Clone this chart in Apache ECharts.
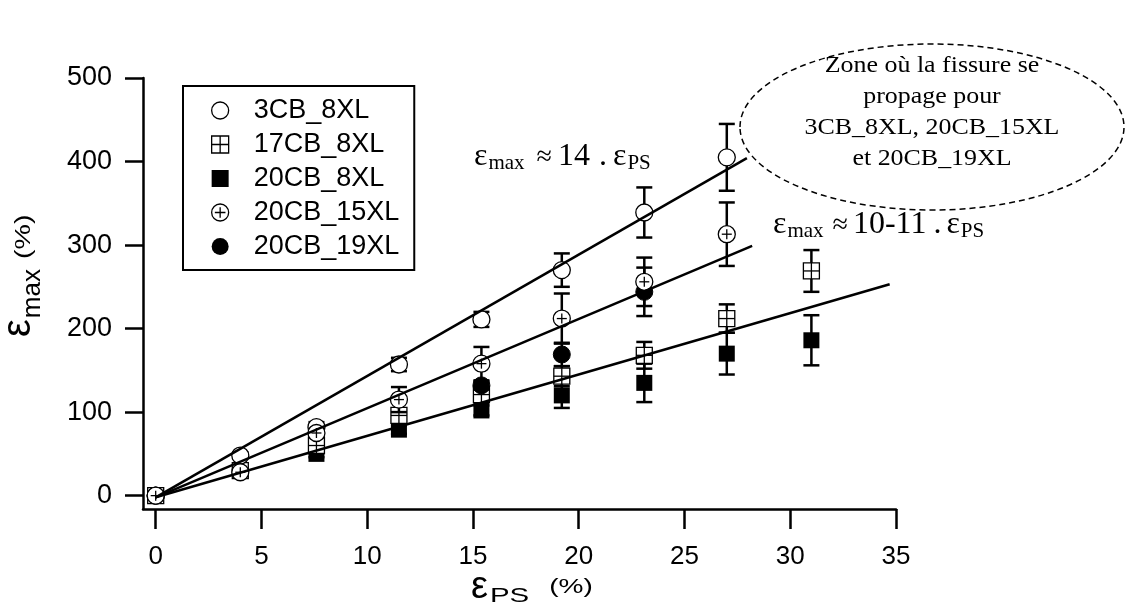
<!DOCTYPE html>
<html><head><meta charset="utf-8">
<script src="https://cdn.jsdelivr.net/npm/echarts@6/dist/echarts.min.js"></script>
<style>html,body{margin:0;padding:0;background:#fff}#c{width:1130px;height:616px}</style>
</head><body><div id="c"></div>
<script>
// ---------- data ----------
const xTicks = [0, 5, 10, 15, 20, 25, 30, 35];
const yTicks = [0, 100, 200, 300, 400, 500];
const legendNames = ['3CB_8XL', '17CB_8XL', '20CB_8XL', '20CB_15XL', '20CB_19XL'];
// each point: [eps_PS, eps_max, error]
const cb3_8xl   = [[0,0,3],[4,48,4],[7.6,82,6],[11.5,157,8],[15.4,211,9],[19.2,270,20],[23.1,339,30],[27,405,40]];
const cb17_8xl  = [[0,0,2],[4,30,3],[7.6,60,5],[11.5,96,6],[15.4,121,8],[19.2,143,12],[23.1,168,16],[27,212,17],[31,269,25]];
const cb20_8xl  = [[0,0,2],[7.6,50,4],[11.5,79,5],[15.4,102,6],[19.2,120,15],[23.1,135,23],[27,170,25],[31,186,30]];
const cb20_15xl = [[0,0,2],[4,28,3],[7.6,75,5],[11.5,115,15],[15.4,158,20],[19.2,212,30],[23.1,256,29],[27,313,38]];
const cb20_19xl = [[0,0,2],[15.4,132,5],[19.2,169,14],[23.1,244,29]];
const fitHigh = [[0,-2],[27.95,404]];
const fitMid  = [[0,-2],[28.2,299]];
const fitLow  = [[0,-2],[34.7,253]];

// ---------- styling ----------
const SANS = "'Liberation Sans', Arial, sans-serif";
const SERIF = "'Liberation Serif', 'Times New Roman', serif";
const K = '#000';

function marker(kind, cx, cy) {
  const R = 8.5, H = 8, lw = 1.3;
  if (kind === 'circle') return [{type:'circle', shape:{cx, cy, r:R}, style:{fill:'#fff', stroke:K, lineWidth:lw}}];
  if (kind === 'circleFill') return [{type:'circle', shape:{cx, cy, r:R}, style:{fill:K, stroke:K, lineWidth:1}}];
  if (kind === 'squareFill') return [{type:'rect', shape:{x:cx-H, y:cy-H, width:2*H, height:2*H}, style:{fill:K}}];
  if (kind === 'squarePlus') return [
    {type:'rect', shape:{x:cx-H, y:cy-H, width:2*H, height:2*H}, style:{fill:'#fff', stroke:K, lineWidth:lw}},
    {type:'line', shape:{x1:cx, y1:cy-H, x2:cx, y2:cy+H}, style:{stroke:K, lineWidth:lw}},
    {type:'line', shape:{x1:cx-H, y1:cy, x2:cx+H, y2:cy}, style:{stroke:K, lineWidth:lw}}];
  if (kind === 'circlePlus') return [
    {type:'circle', shape:{cx, cy, r:R}, style:{fill:'#fff', stroke:K, lineWidth:lw}},
    {type:'line', shape:{x1:cx, y1:cy-5, x2:cx, y2:cy+5}, style:{stroke:K, lineWidth:lw}},
    {type:'line', shape:{x1:cx-5, y1:cy, x2:cx+5, y2:cy}, style:{stroke:K, lineWidth:lw}}];
  return [];
}

function errSeries(name, data, kind) {
  return {
    type:'custom', name, data, clip:false, z:3,
    encode:{x:0, y:1},
    itemStyle:{color:K},
    renderItem(params, api) {
      const x = api.value(0), y = api.value(1), e = api.value(2);
      const c = api.coord([x, y]);
      const t = api.coord([x, y + e]);
      const b = api.coord([x, y - e]);
      const ch = [];
      if (e > 0) {
        const st = {stroke:K, lineWidth:2.5};
        ch.push({type:'line', shape:{x1:c[0], y1:t[1], x2:c[0], y2:b[1]}, style:st});
        ch.push({type:'line', shape:{x1:c[0]-8, y1:t[1], x2:c[0]+8, y2:t[1]}, style:st});
        ch.push({type:'line', shape:{x1:c[0]-8, y1:b[1], x2:c[0]+8, y2:b[1]}, style:st});
      }
      return {type:'group', children: ch.concat(marker(kind, c[0], c[1]))};
    }
  };
}
function fitSeries(data) {
  return {type:'line', data, symbol:'none', silent:true, z:10, lineStyle:{color:K, width:2.5}};
}

// text runs with baseline alignment
const mctx = document.createElement('canvas').getContext('2d');
function runs(x0, base, tokens, family) {
  let x = x0; const out = [];
  tokens.forEach(tk => {
    x += tk.gap || 0;
    const s = tk.s, sx = tk.sx || 1, font = s + 'px ' + family;
    out.push({type:'text', x:x, y: base + (tk.dy || 0) - 0.34 * s, scaleX: sx,
      style:{text: tk.t, font, fill:K, align:'left', verticalAlign:'middle'}});
    mctx.font = font;
    x += mctx.measureText(tk.t).width * sx;
  });
  return out;
}

const anno1 = runs(474, 167, [
  {t:'ε', s:32}, {t:'max', s:21, dy:4, gap:1}, {t:'≈', s:28, gap:12}, {t:'14', s:32, gap:6},
  {t:'.', s:32, gap:9}, {t:'ε', s:32, gap:6}, {t:'PS', s:21, dy:4, gap:1}], SERIF);
const anno2 = runs(773, 235, [
  {t:'ε', s:32}, {t:'max', s:21, dy:4, gap:1}, {t:'≈', s:28, gap:9}, {t:'10-11', s:32, gap:5},
  {t:'.', s:32, gap:7}, {t:'ε', s:32, gap:5}, {t:'PS', s:21, dy:4, gap:1}], SERIF);
const xTitle = runs(471, 600, [
  {t:'ε', s:38}, {t:'PS', s:21, dy:3, sx:1.4, gap:2}, {t:'(%)', s:20, dy:-6, sx:1.4, gap:20}], SANS);
const yTitle = runs(0, 0, [
  {t:'ε', s:40}, {t:'max', s:26, dy:9, gap:1}, {t:'(%)', s:22, dy:-2, sx:1.3, gap:10}], SANS);

const chart = echarts.init(document.getElementById('c'), null, {renderer:'canvas'});
chart.setOption({
  backgroundColor:'#fff',
  animation:false,
  grid:{left:143, right:234, top:78, bottom:107, containLabel:false},
  xAxis:{
    type:'value', min:-0.6, max:35,
    axisLine:{show:true, onZero:false, lineStyle:{color:K, width:2.5}},
    axisTick:{show:true, length:20, lineStyle:{color:K, width:2.5}, customValues:xTicks},
    axisLabel:{color:K, fontSize:26, fontFamily:SANS, margin:35, customValues:xTicks},
    splitLine:{show:false}
  },
  yAxis:{
    type:'value', min:-16, max:500,
    axisLine:{show:true, onZero:false, lineStyle:{color:K, width:2.5}},
    axisTick:{show:true, length:18, lineStyle:{color:K, width:2.5}, customValues:yTicks},
    axisLabel:{color:K, fontSize:27, fontFamily:SANS, margin:31, customValues:yTicks},
    splitLine:{show:false}
  },
  legend:{
    orient:'vertical', left:183, top:86,
    padding:[11, 15, 10, 28], itemGap:7, itemWidth:17, itemHeight:17,
    borderColor:K, borderWidth:2, backgroundColor:'#fff',
    textStyle:{color:K, fontSize:27, fontFamily:SANS, padding:[0,0,0,20]},
    selectedMode:false,
    data:[
      {name:'3CB_8XL', icon:'circle', itemStyle:{color:'#fff', borderColor:K, borderWidth:1.3}},
      {name:'17CB_8XL', icon:'path://M0,0 L16,0 L16,16 L0,16 Z M8,0 L8,16 M0,8 L16,8', itemStyle:{color:'#fff', borderColor:K, borderWidth:1.3}},
      {name:'20CB_8XL', icon:'rect', itemStyle:{color:K, borderColor:K, borderWidth:0}},
      {name:'20CB_15XL', icon:'path://M0,8 A8,8 0 1,1 16,8 A8,8 0 1,1 0,8 Z M8,3 L8,13 M3,8 L13,8', itemStyle:{color:'#fff', borderColor:K, borderWidth:1.3}},
      {name:'20CB_19XL', icon:'circle', itemStyle:{color:K, borderColor:K, borderWidth:0}}
    ]
  },
  series:[
    errSeries('20CB_8XL', cb20_8xl, 'squareFill'),
    errSeries('17CB_8XL', cb17_8xl, 'squarePlus'),
    errSeries('3CB_8XL', cb3_8xl, 'circle'),
    errSeries('20CB_19XL', cb20_19xl, 'circleFill'),
    errSeries('20CB_15XL', cb20_15xl, 'circlePlus'),
    fitSeries(fitHigh), fitSeries(fitMid), fitSeries(fitLow)
  ],
  graphic:[
    {type:'ellipse', shape:{cx:932, cy:127, rx:192, ry:83}, style:{fill:null, stroke:K, lineWidth:1.5, lineDash:[6,4]}, z:20},
    {type:'text', x:932, y:112, scaleX:1.08, z:20, style:{text:'Zone où la fissure se\npropage pour\n3CB_8XL, 20CB_15XL\net 20CB_19XL',
      font:'24px ' + SERIF, fill:K, align:'center', verticalAlign:'middle', lineHeight:31}},
    ...anno1, ...anno2, ...xTitle,
    {type:'group', x:33, y:337, rotation:Math.PI/2, children:yTitle}
  ]
});
</script></body></html>
